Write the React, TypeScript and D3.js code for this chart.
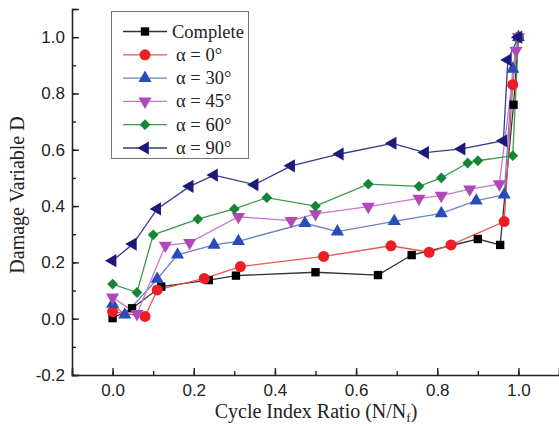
import React, { useEffect, useRef } from 'react';
import * as d3 from 'd3';

// values
const seriesNames = ['Complete', 'α = 0°', 'α = 30°', 'α = 45°', 'α = 60°', 'α = 90°'];

const completeX = [0, 0.048, 0.12, 0.237, 0.304, 0.5, 0.654, 0.737, 0.9, 0.955, 0.988, 1.0];
const completeY = [0.002, 0.037, 0.114, 0.137, 0.153, 0.165, 0.155, 0.226, 0.283, 0.262, 0.76, 1.0];

const a0X = [0, 0.08, 0.11, 0.226, 0.315, 0.52, 0.686, 0.78, 0.834, 0.965, 0.986, 1.0];
const a0Y = [0.025, 0.008, 0.102, 0.143, 0.185, 0.221, 0.259, 0.236, 0.262, 0.345, 0.831, 1.0];

const a30X = [0, 0.03, 0.11, 0.16, 0.25, 0.31, 0.474, 0.554, 0.694, 0.81, 0.896, 0.965, 0.986, 1.0];
const a30Y = [0.052, 0.014, 0.141, 0.227, 0.262, 0.275, 0.339, 0.309, 0.346, 0.374, 0.419, 0.44, 0.887, 1.0];

const a45X = [0, 0.06, 0.13, 0.19, 0.31, 0.44, 0.5, 0.63, 0.755, 0.81, 0.88, 0.953, 0.994, 1.0];
const a45Y = [0.076, 0.017, 0.26, 0.27, 0.362, 0.348, 0.372, 0.398, 0.427, 0.437, 0.46, 0.478, 0.952, 1.0];

const a60X = [0, 0.06, 0.1, 0.21, 0.3, 0.38, 0.5, 0.63, 0.755, 0.81, 0.875, 0.9, 0.986, 1.0];
const a60Y = [0.123, 0.093, 0.298, 0.354, 0.39, 0.43, 0.4, 0.478, 0.47, 0.5, 0.553, 0.561, 0.579, 1.0];

const a90X = [0, 0.05, 0.11, 0.19, 0.25, 0.35, 0.44, 0.56, 0.69, 0.77, 0.86, 0.963, 0.974, 1.0];
const a90Y = [0.206, 0.265, 0.39, 0.47, 0.51, 0.476, 0.543, 0.585, 0.623, 0.59, 0.603, 0.632, 0.919, 1.0];

const xTicks = [0, 0.2, 0.4, 0.6, 0.8, 1.0];
const yTicks = [-0.2, 0, 0.2, 0.4, 0.6, 0.8, 1.0];

const styles = [
  { line: '#333333', fill: '#000000', symbol: d3.symbolSquare, size: 70, rot: 0 },
  { line: '#ee5555', fill: '#ee1c24', symbol: d3.symbolCircle, size: 95, rot: 0 },
  { line: '#6a7fd0', fill: '#2a4cb8', symbol: d3.symbolTriangle, size: 75, rot: 0 },
  { line: '#cc77cc', fill: '#b048b8', symbol: d3.symbolTriangle, size: 75, rot: 180 },
  { line: '#3a9a50', fill: '#178536', symbol: d3.symbolSquare, size: 58, rot: 45 },
  { line: '#3a3a90', fill: '#1a1a78', symbol: d3.symbolTriangle, size: 75, rot: -90 },
];

const fmt = (d: d3.NumberValue) => d3.format('.1f')(d).replace('−', '-');

function App() {
  const ref = useRef<SVGSVGElement>(null);

  useEffect(() => {
    const svg = d3.select(ref.current);
    svg.selectAll('*').remove();

    const x = d3.scaleLinear().domain([-0.1, 1.1]).range([72, 559]);
    const y = d3.scaleLinear().domain([-0.2, 1.1]).range([375, 9]);

    const allX = [completeX, a0X, a30X, a45X, a60X, a90X];
    const allY = [completeY, a0Y, a30Y, a45Y, a60Y, a90Y];
    const series = allX.map((xs, i) => xs.map((v, j) => [v, allY[i][j]] as [number, number]));

    // axes: ticks point inward
    const xAxis = svg.append('g').attr('transform', `translate(0,${y(-0.2)})`);
    xAxis.call(
      d3.axisBottom(x).tickValues(d3.range(-0.1, 1.11, 0.1)).tickSize(-4).tickFormat(() => '')
    );
    xAxis.call((g) => g.select('.domain').remove());
    const xMajor = svg.append('g').attr('transform', `translate(0,${y(-0.2)})`);
    xMajor.call(
      d3.axisBottom(x).tickValues(xTicks).tickSize(-7).tickPadding(9).tickFormat(fmt)
    );

    const yAxis = svg.append('g').attr('transform', `translate(${x(-0.1)},0)`);
    yAxis.call(
      d3.axisLeft(y).tickValues(d3.range(-0.2, 1.11, 0.1)).tickSize(-4).tickFormat(() => '')
    );
    yAxis.call((g) => g.select('.domain').remove());
    const yMajor = svg.append('g').attr('transform', `translate(${x(-0.1)},0)`);
    yMajor.call(
      d3.axisLeft(y).tickValues(yTicks).tickSize(-7).tickPadding(7).tickFormat(fmt)
    );

    svg.selectAll('.domain').attr('stroke', '#222').attr('stroke-width', 1.6);
    svg.selectAll('.tick line').attr('stroke', '#222').attr('stroke-width', 1.4);
    svg.selectAll('.tick text')
      .attr('font-family', '"Liberation Sans", Arial, sans-serif')
      .attr('font-size', 17)
      .attr('fill', '#222');

    const line = d3.line<[number, number]>().x((d) => x(d[0])).y((d) => y(d[1]));

    series.forEach((pts, i) => {
      const s = styles[i];
      svg.append('path')
        .attr('d', line(pts))
        .attr('fill', 'none')
        .attr('stroke', s.line)
        .attr('stroke-width', 1.3);
    });
    series.forEach((pts, i) => {
      const s = styles[i];
      const sym = d3.symbol().type(s.symbol).size(s.size);
      svg.append('g')
        .selectAll('path')
        .data(pts)
        .enter()
        .append('path')
        .attr('d', sym())
        .attr('transform', (d) => `translate(${x(d[0])},${y(d[1])}) rotate(${s.rot})`)
        .attr('fill', s.fill);
    });

    // legend
    const lg = svg.append('g');
    lg.append('rect')
      .attr('x', 111.5).attr('y', 11.5).attr('width', 137).attr('height', 147)
      .attr('fill', 'white').attr('stroke', '#777').attr('stroke-width', 1);
    seriesNames.forEach((name, i) => {
      const s = styles[i];
      const ly = 31.5 + i * 23.3;
      lg.append('line')
        .attr('x1', 123).attr('x2', 167).attr('y1', ly).attr('y2', ly)
        .attr('stroke', s.line).attr('stroke-width', 1.3);
      lg.append('path')
        .attr('d', d3.symbol().type(s.symbol).size(s.size)())
        .attr('transform', `translate(145,${ly}) rotate(${s.rot})`)
        .attr('fill', s.fill);
      lg.append('text')
        .attr('x', i === 0 ? 172 : 176)
        .attr('y', ly + 6)
        .attr('font-family', '"Liberation Serif", "Times New Roman", serif')
        .attr('font-size', 18.5)
        .attr('fill', '#222')
        .text(name);
    });

    // axis titles
    const xt = svg.append('text')
      .attr('x', 316).attr('y', 418)
      .attr('text-anchor', 'middle')
      .attr('font-family', '"Liberation Serif", "Times New Roman", serif')
      .attr('font-size', 20)
      .attr('fill', '#222');
    xt.append('tspan').text('Cycle Index Ratio (N/N');
    xt.append('tspan').attr('font-size', 13).attr('dy', 4).text('f');
    xt.append('tspan').attr('dy', -4).text(')');

    svg.append('text')
      .attr('transform', `translate(24,195) rotate(-90)`)
      .attr('text-anchor', 'middle')
      .attr('font-family', '"Liberation Serif", "Times New Roman", serif')
      .attr('font-size', 20)
      .attr('fill', '#222')
      .text('Damage Variable D');
  }, []);

  return (
    <svg
      ref={ref}
      width={559}
      height={426}
      style={{ position: 'absolute', left: 0, top: 0, background: 'white' }}
    />
  );
}

export default App;
